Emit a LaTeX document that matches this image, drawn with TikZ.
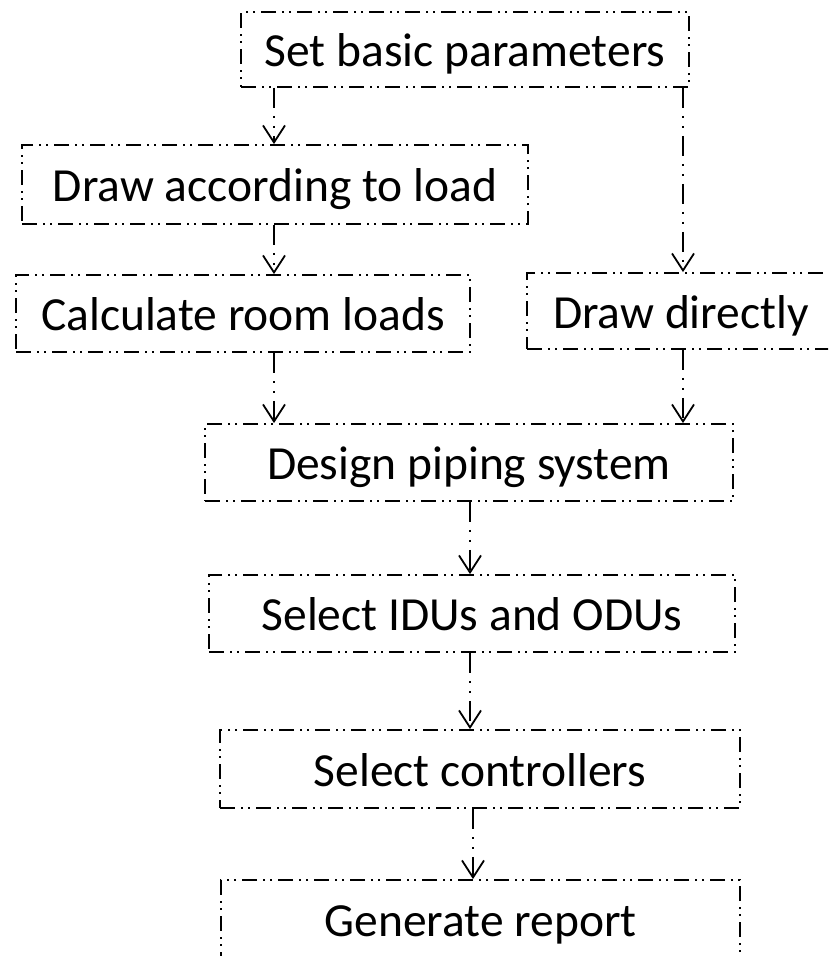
\documentclass[tikz,border=0pt]{standalone}
\usepackage{fontspec}
\setmainfont{Carlito}
\usetikzlibrary{arrows.meta}
\begin{document}
\begin{tikzpicture}[x=1pt,y=-1pt,
  box/.style={draw, line width=1.8pt,
    dash pattern=on 15pt off 6pt on 2pt off 5pt on 2pt off 6pt,
    rectangle, inner sep=0pt, font=\fontsize{47.5}{52}\selectfont,
    text height=34pt, text depth=0pt},
  arr/.style={line width=1.8pt,
    dash pattern=on 20pt off 8pt on 2pt off 8pt on 2pt off 8pt,
    -{Straight Barb[length=17pt,width=22pt]}}]
\useasboundingbox (0,0) rectangle (828,956);
\clip (0,0) rectangle (828,956);
\node[box, minimum width=448pt, minimum height=75pt] (b1) at (465,49.5) {Set basic parameters};
\node[box, minimum width=506pt, minimum height=79pt] (b2) at (275,184.5) {Draw according to load};
\node[box, minimum width=454pt, minimum height=77pt] (b3) at (243,313.5) {Calculate room loads};
\node[box, minimum width=308pt, minimum height=76pt] (b4) at (681,311) {Draw directly};
\node[box, minimum width=528pt, minimum height=77pt] (b5) at (469,462.5) {Design piping system};
\node[box, minimum width=526pt, minimum height=77pt] (b6) at (472,613.5) {Select IDUs and ODUs};
\node[box, minimum width=520pt, minimum height=78pt] (b7) at (480,769) {Select controllers};
\node[box, minimum width=519pt, minimum height=78pt] (b8) at (480.5,919) {Generate report};
\coordinate (lA) at (274,0);
\coordinate (lB) at (683,0);
\coordinate (lC) at (470,0);
\coordinate (lD) at (473,0);
\draw[arr] (b1.south -| lA) -- (b2.north -| lA);
\draw[arr] (b1.south -| lB) -- (b4.north -| lB);
\draw[arr] (b2.south -| lA) -- (b3.north -| lA);
\draw[arr] (b3.south -| lA) -- (b5.north -| lA);
\draw[arr] (b4.south -| lB) -- (b5.north -| lB);
\draw[arr] (b5.south -| lC) -- (b6.north -| lC);
\draw[arr] (b6.south -| lC) -- (b7.north -| lC);
\draw[arr] (b7.south -| lD) -- (b8.north -| lD);
\end{tikzpicture}
\end{document}
